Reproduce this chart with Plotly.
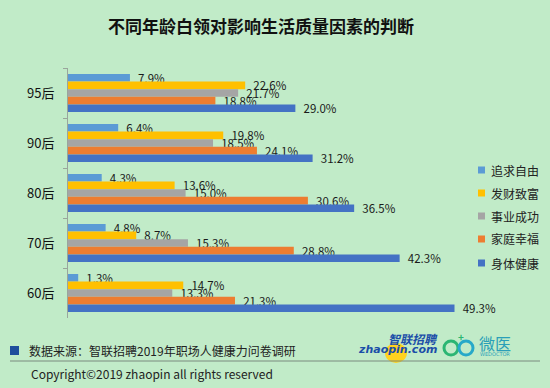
import plotly.graph_objects as go

categories = ["95后", "90后", "80后", "70后", "60后"]
series_names = ["追求自由", "发财致富", "事业成功", "家庭幸福", "身体健康"]
freedom = [7.9, 6.4, 4.3, 4.8, 1.3]
wealth = [22.6, 19.8, 13.6, 8.7, 14.7]
career = [21.7, 18.5, 15.0, 15.3, 13.3]
family = [18.8, 24.1, 30.6, 28.8, 21.3]
health = [29.0, 31.2, 36.5, 42.3, 49.3]
series_values = [freedom, wealth, career, family, health]
colors = ["#5B9BD5", "#FFC000", "#A5A5A5", "#ED7D31", "#4472C4"]

BG = "rgb(193,235,200)"
FONT = "Noto Sans CJK SC"

# plot area in pixels
L, R, T, B = 68, 460, 68, 318
W, H = 550, 388


def px(x):
    return (x - L) / (R - L)


def py(y):
    return (B - y) / (B - T)


fig = go.Figure()
for name, vals, col in zip(series_names, series_values, colors):
    fig.add_trace(go.Bar(
        y=categories, x=vals, name=name, orientation="h",
        marker=dict(color=col, line=dict(width=0)),
        text=["\u00a0\u00a0%.1f%%" % v for v in vals],
        textposition="outside", constraintext="none", cliponaxis=False,
        textfont=dict(family=FONT, size=11.5, color="#1a1a1a"),
        showlegend=False,
    ))

shapes = []
annotations = []
# custom legend
leg_y = [170, 193, 216, 239, 263]
for name, col, yy in zip(series_names, colors, leg_y):
    shapes.append(dict(type="rect", xref="paper", yref="paper",
                       x0=px(478), x1=px(485), y0=py(yy + 3.5), y1=py(yy - 3.5),
                       fillcolor=col, line=dict(width=0)))
    annotations.append(dict(xref="paper", yref="paper", x=px(489), y=py(yy),
                            text=name, showarrow=False, xanchor="left", yanchor="middle",
                            font=dict(family=FONT, size=12, color="#222222")))

# footer
shapes.append(dict(type="rect", xref="paper", yref="paper",
                   x0=px(10), x1=px(19), y0=py(355), y1=py(346),
                   fillcolor="#1F4E9C", line=dict(width=0)))
annotations.append(dict(xref="paper", yref="paper", x=px(27), y=py(350.5),
                        text="数据来源：智联招聘2019年职场人健康力问卷调研", showarrow=False,
                        xanchor="left", yanchor="middle",
                        font=dict(family=FONT, size=12, color="#222222")))
shapes.append(dict(type="line", xref="paper", yref="paper",
                   x0=px(10), x1=px(540), y0=py(361), y1=py(361),
                   line=dict(color="#7a8a7e", width=1)))
annotations.append(dict(xref="paper", yref="paper", x=px(29), y=py(373),
                        text="Copyright©2019 zhaopin all rights reserved", showarrow=False,
                        xanchor="left", yanchor="middle",
                        font=dict(family=FONT, size=12, color="#222222")))

# zhaopin logo
shapes.append(dict(type="circle", xref="paper", yref="paper", layer="below",
                   x0=px(385), x1=px(407), y0=py(363), y1=py(343),
                   fillcolor="#FFD21F", line=dict(width=0)))
annotations.append(dict(xref="paper", yref="paper", x=px(413), y=py(338),
                        text="<b><i>智联招聘</i></b>", showarrow=False,
                        xanchor="center", yanchor="middle",
                        font=dict(family=FONT, size=12, color="#1B4EA8")))
annotations.append(dict(xref="paper", yref="paper", x=px(397), y=py(349),
                        text="<b><i>zhaopin.com</i></b>", showarrow=False,
                        xanchor="center", yanchor="middle",
                        font=dict(family="DejaVu Sans", size=11, color="#1B4EA8")))
# wedoctor logo
shapes.append(dict(type="circle", xref="paper", yref="paper",
                   x0=px(444), x1=px(458), y0=py(355), y1=py(341),
                   line=dict(color="#2BB673", width=3)))
shapes.append(dict(type="circle", xref="paper", yref="paper",
                   x0=px(459), x1=px(473), y0=py(355), y1=py(341),
                   line=dict(color="#27A9C9", width=3)))
annotations.append(dict(xref="paper", yref="paper", x=px(461), y=py(336),
                        text="<b>+</b>", showarrow=False, xanchor="center", yanchor="middle",
                        font=dict(family=FONT, size=10, color="#2BB673")))
annotations.append(dict(xref="paper", yref="paper", x=px(495), y=py(343),
                        text="微医", showarrow=False, xanchor="center", yanchor="middle",
                        font=dict(family=FONT, size=16, color="#2A9FB8")))
annotations.append(dict(xref="paper", yref="paper", x=px(495), y=py(354),
                        text="WEDOCTOR", showarrow=False, xanchor="center", yanchor="middle",
                        font=dict(family="DejaVu Sans", size=5, color="#2A9FB8")))

fig.update_layout(
    width=W, height=H,
    margin=dict(l=L, r=W - R, t=T, b=H - B, pad=0),
    paper_bgcolor=BG, plot_bgcolor=BG,
    barmode="group", bargap=0.24, bargroupgap=0,
    title=dict(text="<b>不同年龄白领对影响生活质量因素的判断</b>",
               x=261 / W, xanchor="center", y=1 - 27 / H, yanchor="middle",
               font=dict(family=FONT, size=17, color="#111111")),
    xaxis=dict(range=[0, 50], showgrid=False, showticklabels=False, zeroline=False,
               showline=False, ticks="", fixedrange=True),
    yaxis=dict(autorange="reversed", showgrid=False, showline=True, linecolor="#9aa59c",
               linewidth=1, ticks="outside", tickson="boundaries", ticklen=4,
               tickcolor="#9aa59c", ticklabelstandoff=10, fixedrange=True,
               tickfont=dict(family=FONT, size=13, color="#111111")),
    shapes=shapes, annotations=annotations,
)

fig.write_html("out.html", config={"displayModeBar": False},
               post_script="document.body.style.margin='0';document.body.style.padding='0';"
                           "document.body.style.overflow='hidden';")
